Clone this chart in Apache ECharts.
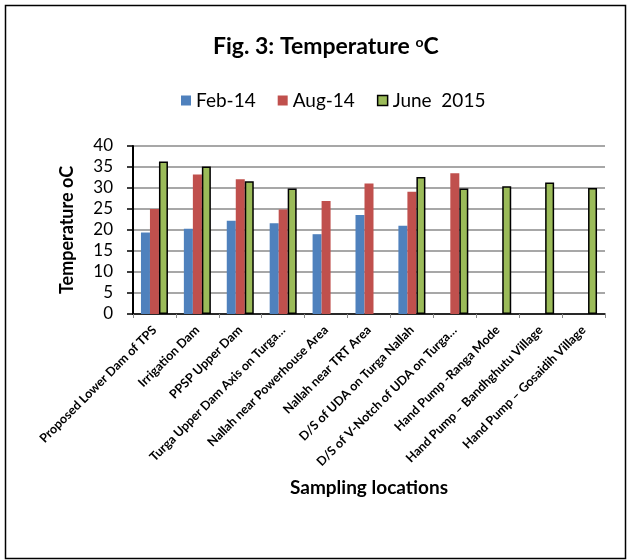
<!DOCTYPE html>
<html>
<head>
<meta charset="utf-8">
<script src="https://cdn.jsdelivr.net/npm/echarts@6/dist/echarts.min.js"></script>
<style>
  html, body { margin: 0; padding: 0; background: #fff; }
  #chart { width: 627px; height: 560px; }
</style>
</head>
<body>
<div id="chart"></div>
<script>
// Sampling locations along the x axis
const locations = [
  'Proposed Lower Dam of TPS',
  'Irrigation Dam',
  'PPSP Upper Dam',
  'Turga Upper Dam Axis on Turga…',
  'Nallah near Powerhouse Area',
  'Nallah near TRT Area',
  'D/S of UDA on Turga Nallah',
  'D/S of V-Notch of UDA on Turga…',
  'Hand Pump -Ranga Mode',
  'Hand Pump – Bandhghutu Village',
  'Hand Pump – Gosaidih Village'
];

// Temperature (°C) per sampling campaign
const feb14 = [19.4, 20.3, 22.2, 21.6, 19.0, 23.6, 21.0, null, null, null, null];
const aug14 = [25.0, 33.2, 32.1, 24.9, 26.9, 31.1, 29.1, 33.5, null, null, null];
const june2015 = [36.3, 35.1, 31.6, 29.9, null, null, 32.6, 29.9, 30.4, 31.3, 30.0];

const yTicks = { min: 0, max: 40, interval: 5 };

const font = 'Lato, "Open Sans", sans-serif';

const chart = echarts.init(document.getElementById('chart'), null, { renderer: 'canvas' });

chart.setOption({
  animation: false,
  backgroundColor: '#fff',
  textStyle: { fontFamily: font },
  title: {
    text: '{b|Fig. 3: Temperature }{sup|o}{b|C}',
    left: 208,
    top: 30,
    textStyle: {
      rich: {
        b: { fontFamily: font, fontWeight: 'bold', fontSize: 23, color: '#000' },
        sup: { fontFamily: font, fontWeight: 'bold', fontSize: 14, color: '#000', verticalAlign: 'top', padding: [0, 0, 9, 0] }
      }
    }
  },
  legend: {
    top: 86,
    left: 176,
    itemWidth: 10,
    itemHeight: 10,
    itemGap: 22,
    textStyle: { fontFamily: font, fontSize: 19, color: '#000' },
    data: [
      { name: 'Feb-14', icon: 'rect' },
      { name: 'Aug-14', icon: 'rect' },
      { name: 'June  2015', icon: 'rect', itemStyle: { borderColor: '#000', borderWidth: 1.5 } }
    ]
  },
  grid: { left: 133, right: 22, top: 146, bottom: 246, containLabel: false },
  xAxis: {
    type: 'category',
    data: locations,
    boundaryGap: true,
    axisLine: { lineStyle: { color: '#000', width: 1.5 } },
    axisTick: { show: true, alignWithLabel: false, length: 4, lineStyle: { color: '#888', width: 1 } },
    axisLabel: {
      interval: 0,
      rotate: 45,
      fontFamily: font,
      fontSize: 12.5,
      fontWeight: 'bold',
      color: '#000',
      margin: 14
    },
    name: 'Sampling locations',
    nameLocation: 'middle',
    nameGap: 164,
    nameTextStyle: { fontFamily: font, fontSize: 19, fontWeight: 'bold', color: '#000' }
  },
  yAxis: {
    type: 'value',
    min: yTicks.min,
    max: yTicks.max,
    interval: yTicks.interval,
    axisLine: { show: true, lineStyle: { color: '#000', width: 2 } },
    axisTick: { show: true, inside: false, length: 6, lineStyle: { color: '#000', width: 1.5 } },
    axisLabel: { fontFamily: font, fontSize: 17, color: '#000', margin: 20 },
    splitLine: { show: true, lineStyle: { color: '#8a8a8a', width: 1.5 } },
    name: 'Temperature oC',
    nameLocation: 'middle',
    nameGap: 57,
    nameTextStyle: { fontFamily: font, fontSize: 18, fontWeight: 'bold', color: '#000' }
  },
  series: [
    {
      name: 'Feb-14', type: 'bar', data: feb14,
      barWidth: 9, barGap: '0%',
      itemStyle: { color: '#4F81BD' }
    },
    {
      name: 'Aug-14', type: 'bar', data: aug14,
      barWidth: 9, barGap: '0%',
      itemStyle: { color: '#C0504D' }
    },
    {
      name: 'June  2015', type: 'bar', data: june2015,
      barWidth: 9, barGap: '0%',
      itemStyle: { color: '#9BBB59', borderColor: '#000', borderWidth: 1.5 }
    }
  ],
  graphic: [
    {
      type: 'rect',
      left: 3, top: 3,
      shape: { width: 620, height: 553 },
      style: { fill: 'none', stroke: '#000', lineWidth: 1.5 },
      silent: true
    }
  ]
});
</script>
</body>
</html>
